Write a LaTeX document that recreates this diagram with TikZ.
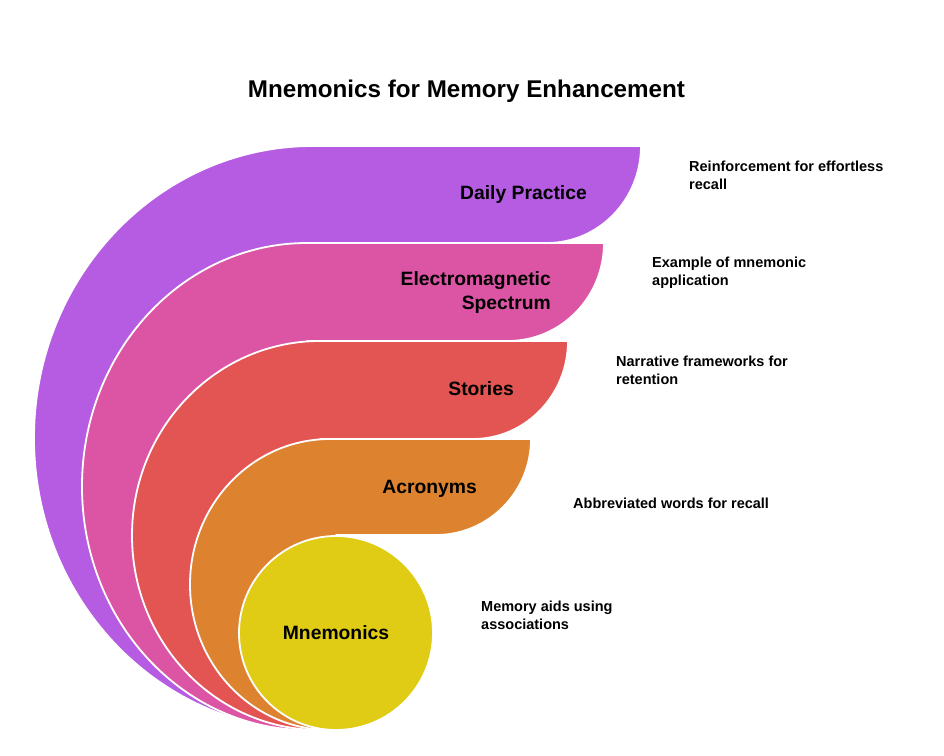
\documentclass[tikz,border=0pt]{standalone}
\usepackage{fontspec}
\setmainfont{Liberation Sans}
\definecolor{cPurple}{HTML}{B65CE2}
\definecolor{cPink}{HTML}{DC55A5}
\definecolor{cRed}{HTML}{E35552}
\definecolor{cOrange}{HTML}{DD822E}
\definecolor{cYellow}{HTML}{E0CC14}
\begin{document}
\begin{tikzpicture}[x=1pt,y=1pt,
  band/.style={draw=white, line width=1.8pt, line join=round},
  lbl/.style={font=\fontsize{19.3}{24}\selectfont\bfseries, inner sep=0pt, text=black},
  desc/.style={font=\fontsize{14.5}{18}\selectfont\bfseries, inner sep=0pt, align=left, anchor=west, text=black}]
\useasboundingbox (0,0) rectangle (944,755);
\fill[white] (0,0) rectangle (944,755);
\node[font=\fontsize{24.2}{29}\selectfont\bfseries, inner sep=0pt] (title) at (466.5,664) {Mnemonics for Memory Enhancement};
% bands, back to front
\path[band, fill=cPurple] (313,25) arc[start angle=270, end angle=90, x radius=279, y radius=292]
  -- (641,609) arc[start angle=0, end angle=-90, x radius=94, y radius=97] -- (313,512) -- cycle;
\path[band, fill=cPink] (307,25) arc[start angle=270, end angle=90, x radius=225, y radius=243.5]
  -- (604,512) arc[start angle=0, end angle=-90, x radius=96, y radius=98] -- (307,414) -- cycle;
\path[band, fill=cRed] (320,25) arc[start angle=270, end angle=90, x radius=188, y radius=194.5]
  -- (568,414) arc[start angle=0, end angle=-90, x radius=95, y radius=98] -- (320,316) -- cycle;
\path[band, fill=cOrange] (330,25) arc[start angle=270, end angle=90, x radius=140, y radius=145.5]
  -- (531,316) arc[start angle=0, end angle=-90, x radius=95, y radius=96] -- (336,220) -- (336,25) -- cycle;
\node[circle, fill=cYellow, draw=white, line width=1.8pt, minimum size=194pt, inner sep=0pt, lbl] (mn) at (336,122) {Mnemonics};
% band labels
\node[lbl, anchor=east] (dp) at (587,560) {Daily Practice};
\node[lbl, anchor=east, align=right] (em) at (551,462.5) {Electromagnetic\\Spectrum};
\node[lbl, anchor=east] (st) at (514,366) {Stories};
\node[lbl, anchor=east] (ac) at (477,266) {Acronyms};
% descriptions
\node[desc] (d1) at (689,580) {Reinforcement for effortless\\recall};
\node[desc] (d2) at (652,482) {Example of mnemonic\\application};
\node[desc] (d3) at (616,384.5) {Narrative frameworks for\\retention};
\node[desc] (d4) at (573,252) {Abbreviated words for recall};
\node[desc] (d5) at (481,140) {Memory aids using\\associations};
\end{tikzpicture}
\end{document}
